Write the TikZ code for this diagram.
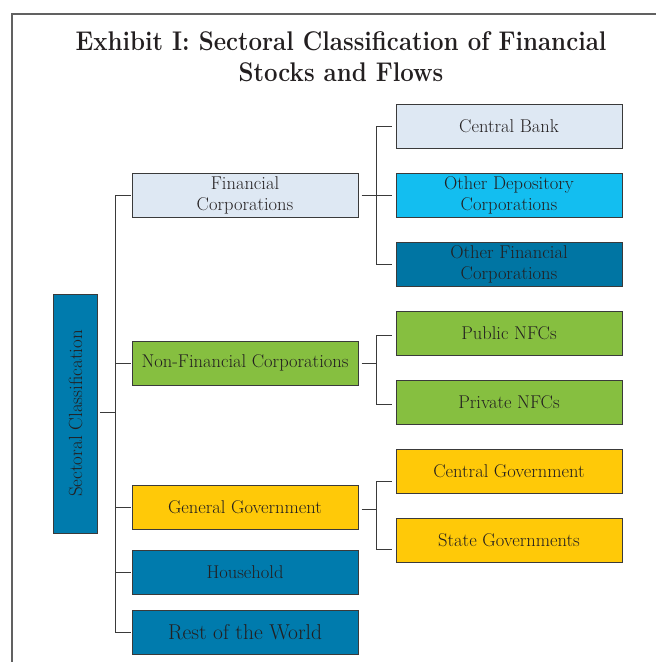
\documentclass[tikz,border=0pt]{standalone}
\usepackage{graphicx}
\definecolor{txt}{HTML}{231F20}
\definecolor{lineg}{HTML}{3A3A3A}
\definecolor{lblue}{HTML}{DEE8F3}
\definecolor{cyanb}{HTML}{13BEF0}
\definecolor{dblue}{HTML}{0075A3}
\definecolor{mblue}{HTML}{007BAD}
\definecolor{greenb}{HTML}{86BF40}
\definecolor{yellowb}{HTML}{FFC908}
\tikzset{
  box/.style={draw=lineg, line width=1pt, minimum width=226pt, minimum height=44pt,
    inner sep=0pt, align=center, text=txt, font=\fontsize{18.5}{21}\selectfont},
  conn/.style={draw=lineg, line width=1pt},
}
\begin{document}
\begin{tikzpicture}[x=1pt,y=-1pt]
\useasboundingbox (0,0) rectangle (656,662);
\fill[white] (0,0) rectangle (656,662);
\draw[line width=1.2pt, draw=lineg!80] (12,662) -- (12,14) -- (656,14);
% title
\node[text=txt, font=\fontsize{27}{31}\selectfont\bfseries, align=center] (title) at (341,57)
  {\scalebox{0.89}[1]{Exhibit I: Sectoral Classification of Financial}\\\scalebox{0.89}[1]{Stocks and Flows}};
% left column
\node[box, fill=mblue, minimum width=44.5pt, minimum height=239pt, font=\fontsize{19}{21}\selectfont] (sc) at (75.5,413.5)
  {\rotatebox{90}{Sectoral Classification}};
\node[box, fill=lblue] (fc) at (245,195) {Financial\\Corporations};
\node[box, fill=greenb] (nfc) at (245,363) {Non-Financial Corporations};
\node[box, fill=yellowb] (gg) at (245,507) {General Government};
\node[box, fill=mblue] (hh) at (245,572) {Household};
\node[box, fill=mblue, font=\fontsize{21.5}{24}\selectfont] (rw) at (245,632) {Rest of the World};
% right column
\node[box, fill=lblue] (cb) at (509,126) {Central Bank};
\node[box, fill=cyanb] (odc) at (509,195) {Other Depository\\Corporations};
\node[box, fill=dblue] (ofc) at (509,264) {Other Financial\\Corporations};
\node[box, fill=greenb] (pub) at (509,333) {Public NFCs};
\node[box, fill=greenb] (priv) at (509,402) {Private NFCs};
\node[box, fill=yellowb] (cg) at (509,471) {Central Government};
\node[box, fill=yellowb] (sg) at (509,540) {State Governments};
% main trunk
\draw[conn] ([xshift=-1pt]fc.west) -| ([xshift=-16pt]rw.west) -- ([xshift=-1pt]rw.west);
\draw[conn] ([xshift=-1pt]nfc.west) -- ([xshift=-16pt]nfc.west);
\draw[conn] ([xshift=-1pt]gg.west) -- ([xshift=-16pt]gg.west);
\draw[conn] ([xshift=-1pt]hh.west) -- ([xshift=-16pt]hh.west);
\draw[conn] ([xshift=1.5pt,yshift=1.5pt]sc.east) -- ([xshift=-16pt,yshift=1.5pt]sc.east -| fc.west);
% financial bracket
\draw[conn] ([xshift=-4pt]cb.west) -| ([xshift=-19pt]ofc.west) -- ([xshift=-4pt]ofc.west);
\draw[conn] ([xshift=3pt]fc.east) -- ([xshift=-4pt]odc.west);
% NFC bracket
\draw[conn] ([xshift=-4pt,yshift=-2pt]pub.west) -| ([xshift=-19pt,yshift=-2pt]priv.west) -- ([xshift=-4pt,yshift=-2pt]priv.west);
\draw[conn] ([xshift=3pt]nfc.east) -- ([xshift=-19pt]nfc.east -| pub.west);
% GG bracket
\draw[conn] ([xshift=-4pt,yshift=-10pt]cg.west) -| ([xshift=-19pt,yshift=-9pt]sg.west) -- ([xshift=-4pt,yshift=-9pt]sg.west);
\draw[conn] ([xshift=3pt,yshift=-2pt]gg.east) -- ([xshift=-19pt,yshift=-2pt]gg.east -| cg.west);
\end{tikzpicture}
\end{document}
